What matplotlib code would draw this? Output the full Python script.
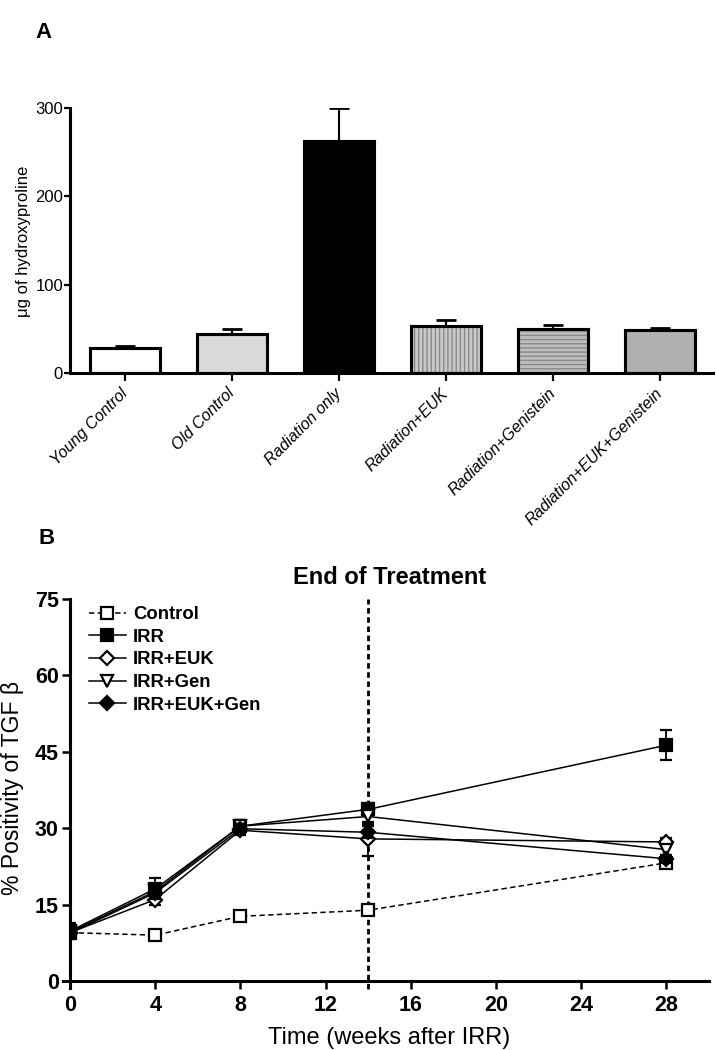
import matplotlib
matplotlib.use("Agg")
import matplotlib.pyplot as plt
from matplotlib.lines import Line2D
import numpy as np

plt.rcParams['font.family'] = ['Liberation Sans', 'DejaVu Sans']
plt.rcParams['hatch.linewidth'] = 1.0

# ---------------- Data ----------------
# Panel A
groups = ["Young Control", "Old Control", "Radiation only", "Radiation+EUK",
          "Radiation+Genistein", "Radiation+EUK+Genistein"]
hydroxyproline = [28.5, 44.5, 262.5, 53.5, 49.3, 48.2]
hydroxyproline_err = [2.5, 5.0, 37.0, 6.5, 5.0, 2.2]

# Panel B
weeks = [0, 4, 8, 14, 28]
control = [9.5, 9.0, 12.7, 13.9, 23.2]
control_err = [0.8, 0.5, 0.6, 0.8, 0.8]
irr = [9.8, 18.1, 30.4, 33.7, 46.3]
irr_err = [1.5, 2.2, 1.2, 1.2, 2.9]
irr_euk = [9.5, 16.0, 29.6, 27.9, 27.3]
irr_euk_err = [1.0, 1.0, 1.0, 3.4, 0.8]
irr_gen = [9.6, 17.6, 30.4, 32.3, 25.8]
irr_gen_err = [1.0, 1.2, 1.0, 1.5, 1.0]
irr_euk_gen = [9.4, 17.3, 29.9, 29.2, 24.0]
irr_euk_gen_err = [1.0, 1.2, 1.0, 1.2, 0.8]
series_labels = ["Control", "IRR", "IRR+EUK", "IRR+Gen", "IRR+EUK+Gen"]

W, H = 716, 1050
fig = plt.figure(figsize=(W / 100, H / 100), dpi=100)

# ---------------- Panel A ----------------
axA = fig.add_axes([70 / W, 1 - 373 / H, (713 - 70) / W, (373 - 108) / H])
x = np.arange(len(groups))
face = ["white", "#d9d9d9", "black", "#c9c9c9", "#bdbdbd", "#b0b0b0"]
hatches = [None, None, None, "||||", "----", None]
hatchcol = [None, None, None, "#8a8a8a", "#8a8a8a", None]
bw = 0.66
axA.bar(x, hydroxyproline, width=bw, color=face, edgecolor="black",
        linewidth=2.2, zorder=2)
for i in range(len(groups)):
    if hatches[i]:
        axA.bar(x[i], hydroxyproline[i], width=bw - 0.03, fill=False,
                hatch=hatches[i], edgecolor=hatchcol[i], linewidth=0, zorder=2.5)
axA.bar(x, hydroxyproline, width=bw, fill=False, edgecolor="black",
        linewidth=2.2, zorder=3)
axA.errorbar(x, hydroxyproline, yerr=[np.zeros(len(x)), hydroxyproline_err],
             fmt="none", ecolor="black", elinewidth=1.5, capsize=7,
             capthick=2, zorder=1)
axA.set_xlim(-0.514, 5.495)
axA.set_ylim(0, 300)
axA.set_yticks([0, 100, 200, 300])
axA.set_xticks(x)
axA.set_xticklabels(groups, rotation=45, ha="right", va="center",
                    rotation_mode="anchor", fontstyle="italic", fontsize=11.5)
for lab in axA.get_yticklabels():
    lab.set_family(["Liberation Sans Narrow", "Liberation Sans"])
    lab.set_fontsize(12)
axA.tick_params(axis="y", length=4, width=1.6, pad=1)
axA.tick_params(axis="x", length=6, width=1.6, pad=7)
for s in ["top", "right"]:
    axA.spines[s].set_visible(False)
for s in ["left", "bottom"]:
    axA.spines[s].set_linewidth(2.2)
fig.text(24 / W, 1 - 241 / H, "μg of hydroxyproline", rotation=90,
         ha="center", va="center", fontsize=12)
fig.text(43 / W, 1 - 33 / H, "A", ha="center", va="center",
         fontsize=16, fontweight="bold")

# ---------------- Panel B ----------------
axB = fig.add_axes([70 / W, 1 - 981 / H, (709 - 70) / W, (981 - 599) / H])
axB.axvline(14, ymin=-0.02, ymax=1, color="black", linewidth=2,
            linestyle=(0, (2.0, 1.3)), clip_on=False, zorder=1)

common = dict(color="black", ecolor="black", elinewidth=1.3, capsize=4,
              capthick=1.3, markersize=8, markeredgewidth=1.6, linewidth=1.1)
common_d = dict(common)
common_d["markersize"] = 7.5
styles = [
    (control, control_err, "s", (0, (3.5, 2.2)), "white", common, 3),
    (irr, irr_err, "s", "-", "black", common, 4),
    (irr_euk, irr_euk_err, "D", "-", "white", common_d, 5),
    (irr_gen, irr_gen_err, "v", "-", "white", common, 5),
    (irr_euk_gen, irr_euk_gen_err, "D", "-", "black", common_d, 6),
]
handles = []
for (vals, errs, mk, ls, mfc, kw, z), lab in zip(styles, series_labels):
    axB.errorbar(weeks, vals, yerr=errs, fmt=mk, linestyle=ls,
                 markerfacecolor=mfc, markeredgecolor="black", zorder=z, **kw)
    handles.append(Line2D([], [], color="black", linestyle=ls, linewidth=1.1,
                          marker=mk, markersize=kw["markersize"],
                          markerfacecolor=mfc, markeredgecolor="black",
                          markeredgewidth=1.6, label=lab))

axB.set_xlim(0, 30)
axB.set_ylim(0, 75)
axB.set_xticks([0, 4, 8, 12, 16, 20, 24, 28])
axB.set_yticks([0, 15, 30, 45, 60, 75])
for s in ["top", "right"]:
    axB.spines[s].set_visible(False)
for s in ["left", "bottom"]:
    axB.spines[s].set_linewidth(2.2)
axB.spines["bottom"].set_bounds(-0.35, 30)
axB.spines["left"].set_bounds(-1.3, 75)
axB.tick_params(axis="both", length=6, width=1.8, labelsize=15.5)
axB.tick_params(axis="y", pad=2)
axB.tick_params(axis="x", pad=4)
for lab in axB.get_xticklabels() + axB.get_yticklabels():
    lab.set_fontweight("bold")
axB.set_title("End of Treatment", fontsize=17, fontweight="bold", pad=11)
axB.set_xlabel("Time (weeks after IRR)", fontsize=17, labelpad=8)
fig.text(13 / W, 1 - 788 / H, "% Positivity of TGF β", rotation=90,
         ha="center", va="center", fontsize=16.5)

leg = axB.legend(handles=handles, loc="upper left", frameon=False,
                 bbox_to_anchor=(0.018, 1.0), prop=dict(weight="bold", size=13.3),
                 handlelength=2.0, handletextpad=0.4, labelspacing=0.3,
                 borderaxespad=0.0)
fig.text(47 / W, 1 - 538 / H, "B", ha="center", va="center",
         fontsize=16, fontweight="bold")

fig.savefig("out.png", dpi=100)
